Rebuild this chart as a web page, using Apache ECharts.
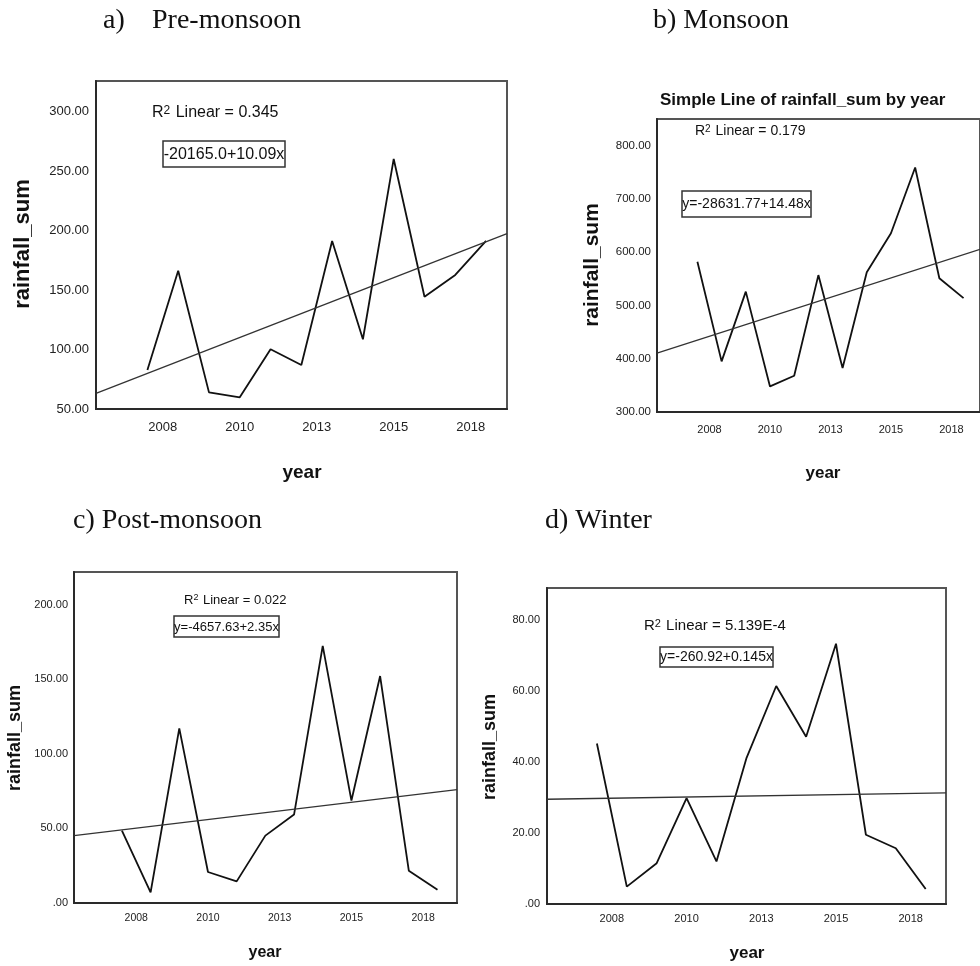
<!DOCTYPE html>
<html>
<head>
<meta charset="utf-8">
<script src="https://cdn.jsdelivr.net/npm/echarts@6/dist/echarts.min.js"></script>
<style>
html,body{margin:0;padding:0;background:#fff;}
#c{width:980px;height:966px;}
</style>
</head>
<body>
<div id="c"></div>
<script>
// ---- data ----
const years = [2007, 2008, 2009, 2010, 2011, 2012, 2013, 2014, 2015, 2016, 2017, 2018];
const preMonsoon  = [82.8, 166.4, 64.0, 59.8, 100.3, 87.0, 191.4, 108.7, 260.4, 144.5, 162.8, 191.4];
const monsoon     = [582, 395, 526, 348, 368, 557, 382.5, 562.5, 635.6, 759, 551, 513.8];
const postMonsoon = [48.6, 7.1, 117.1, 20.8, 14.5, 45.2, 59.3, 172.4, 68.7, 152.2, 21.7, 8.9];
const winter      = [45.2, 4.9, 11.5, 29.8, 12.0, 41.0, 61.4, 47.1, 73.3, 19.5, 15.7, 4.2];

// fitted linear trend lines (value at left and right end of the x range)
const fitXRange = [2005.33, 2018.68];
const fitPre  = [63.2, 197.6];
const fitMon  = [410.6, 605.5];
const fitPost = [45.2, 76.1];
const fitWin  = [29.5, 31.3];

// tick labels
const xTickPos    = [2007.5, 2010, 2012.5, 2015, 2017.5];
const xTickLabels = ['2008', '2010', '2013', '2015', '2018'];
const yTicksPre  = [50, 100, 150, 200, 250, 300];
const yTicksMon  = [300, 400, 500, 600, 700, 800];
const yTicksPost = [0, 50, 100, 150, 200];
const yTicksWin  = [0, 20, 40, 60, 80];

const panelTitles = ['a)', 'Pre-monsoon', 'b) Monsoon', 'c) Post-monsoon', 'd) Winter'];
const r2Texts = ['0.345', '0.179', '0.022', '5.139E-4'];
const eqTexts = ['-20165.0+10.09x', 'y=-28631.77+14.48x', 'y=-4657.63+2.35x', 'y=-260.92+0.145x'];
const subTitle = 'Simple Line of rainfall_sum by year';

// ---- chart ----
const SANS = '"Liberation Sans", Arial, Helvetica, sans-serif';
const SERIF = '"Liberation Serif", "Times New Roman", serif';

const grids = [
  {left: 96,  top: 81,  width: 411, height: 328},
  {left: 657, top: 119, width: 331, height: 293},
  {left: 74,  top: 572, width: 383, height: 331},
  {left: 547, top: 588, width: 399, height: 316}
];
const yRanges = [[50, 326], [300, 850], [0, 222], [0, 89]];
const yTicks = [yTicksPre, yTicksMon, yTicksPost, yTicksWin];
const xFont = [13, 11, 10.5, 11];
const yFont = [13, 11.5, 11, 11];
const xMargin = [12, 12, 10, 9];
const yMargin = [7, 6, 6, 7];
const yPad = [[7,0,0,0],[7,0,0,0],[4,0,0,0],[4,0,0,0]];

function fmtY(v){ return v === 0 ? '.00' : v.toFixed(2); }

const xAxes = grids.map((g, i) => ({
  type: 'value', gridIndex: i, min: fitXRange[0], max: fitXRange[1],
  axisLine: {show: true, onZero: false, lineStyle: {color: '#2a2a2a', width: 2}},
  axisTick: {show: false}, splitLine: {show: false},
  axisLabel: {
    customValues: xTickPos, margin: xMargin[i],
    color: '#222', fontFamily: SANS, fontSize: xFont[i],
    formatter: v => { const k = xTickPos.findIndex(p => Math.abs(p - v) < 1e-6); return k >= 0 ? xTickLabels[k] : ''; }
  }
}));
const yAxes = grids.map((g, i) => ({
  type: 'value', gridIndex: i, min: yRanges[i][0], max: yRanges[i][1],
  axisLine: {show: true, onZero: false, lineStyle: {color: '#2a2a2a', width: 2}},
  axisTick: {show: false}, splitLine: {show: false},
  axisLabel: {
    customValues: yTicks[i], margin: yMargin[i], padding: yPad[i],
    color: '#222', fontFamily: SANS, fontSize: yFont[i], formatter: fmtY
  }
}));

const seriesData = [preMonsoon, monsoon, postMonsoon, winter];
const fits = [fitPre, fitMon, fitPost, fitWin];
const series = [];
seriesData.forEach((arr, i) => {
  series.push({
    type: 'line', xAxisIndex: i, yAxisIndex: i, silent: true,
    data: years.map((y, k) => [y, arr[k]]),
    showSymbol: false, symbol: 'none',
    lineStyle: {color: '#111', width: 1.8}
  });
  series.push({
    type: 'line', xAxisIndex: i, yAxisIndex: i, silent: true,
    data: [[fitXRange[0], fits[i][0]], [fitXRange[1], fits[i][1]]],
    showSymbol: false, symbol: 'none',
    lineStyle: {color: '#333', width: 1.3}
  });
});

function txt(x, y, text, font, opts) {
  opts = opts || {};
  return {
    type: 'text', x: x, y: y, rotation: opts.rotation || 0, silent: true,
    style: Object.assign({
      text: text, fontFamily: font.family, fontSize: font.size, fontWeight: font.weight || 'normal',
      fill: opts.fill || '#111', align: opts.align || 'left', verticalAlign: 'middle'
    }, opts.style || {})
  };
}
function r2(x, y, val, size) {
  return {
    type: 'text', x: x, y: y, silent: true,
    style: {
      text: '{a|R}{s|2}{a| Linear = ' + val + '}',
      verticalAlign: 'middle', align: 'left',
      rich: {
        a: {fontFamily: SANS, fontSize: size, fill: '#111', verticalAlign: 'middle'},
        s: {fontFamily: SANS, fontSize: Math.round(size * 0.72), fill: '#111', verticalAlign: 'top', padding: [0, 1, 0, 0]}
      }
    }
  };
}
function eqBox(l, t, w, h, text, size) {
  return [
    {type: 'rect', silent: true, shape: {x: l, y: t, width: w, height: h},
     style: {fill: 'none', stroke: '#333', lineWidth: 1.5}},
    txt(l + w / 2, t + h / 2 + 0.5, text, {family: SANS, size: size}, {align: 'center'})
  ];
}

const graphics = [
  // panel titles
  txt(103, 21, panelTitles[0], {family: SERIF, size: 28}),
  txt(152, 21, panelTitles[1], {family: SERIF, size: 28}),
  txt(653, 21, panelTitles[2], {family: SERIF, size: 28}),
  txt(73, 521, panelTitles[3], {family: SERIF, size: 28}),
  txt(545, 521, panelTitles[4], {family: SERIF, size: 28}),
  // SPSS title of panel b
  txt(660, 100, subTitle, {family: SANS, size: 17, weight: 'bold'}),
  // y axis names
  txt(23, 244, 'rainfall_sum', {family: SANS, size: 22, weight: 'bold'}, {align: 'center', rotation: Math.PI / 2}),
  txt(592, 265, 'rainfall_sum', {family: SANS, size: 21, weight: 'bold'}, {align: 'center', rotation: Math.PI / 2}),
  txt(15, 738, 'rainfall_sum', {family: SANS, size: 18, weight: 'bold'}, {align: 'center', rotation: Math.PI / 2}),
  txt(490, 747, 'rainfall_sum', {family: SANS, size: 18, weight: 'bold'}, {align: 'center', rotation: Math.PI / 2}),
  // x axis names
  txt(302, 473, 'year', {family: SANS, size: 19, weight: 'bold'}, {align: 'center'}),
  txt(823, 473, 'year', {family: SANS, size: 17, weight: 'bold'}, {align: 'center'}),
  txt(265, 953, 'year', {family: SANS, size: 16, weight: 'bold'}, {align: 'center'}),
  txt(747, 953, 'year', {family: SANS, size: 17, weight: 'bold'}, {align: 'center'}),
  // R^2 annotations
  r2(152, 113, r2Texts[0], 16),
  r2(695, 131, r2Texts[1], 14),
  r2(184, 600, r2Texts[2], 13),
  r2(644, 626, r2Texts[3], 15)
].concat(
  eqBox(163, 141, 122, 26, eqTexts[0], 16),
  eqBox(682, 191, 129, 26, eqTexts[1], 14),
  eqBox(174, 616, 105, 21, eqTexts[2], 13),
  eqBox(660, 647, 113, 20, eqTexts[3], 14)
);

const chart = echarts.init(document.getElementById('c'), null, {renderer: 'canvas'});
chart.setOption({
  animation: false,
  backgroundColor: '#fff',
  grid: grids.map(g => Object.assign({show: true, borderColor: '#555', borderWidth: 2, backgroundColor: 'transparent'}, g)),
  xAxis: xAxes,
  yAxis: yAxes,
  series: series,
  graphic: {elements: graphics}
});
</script>
</body>
</html>
